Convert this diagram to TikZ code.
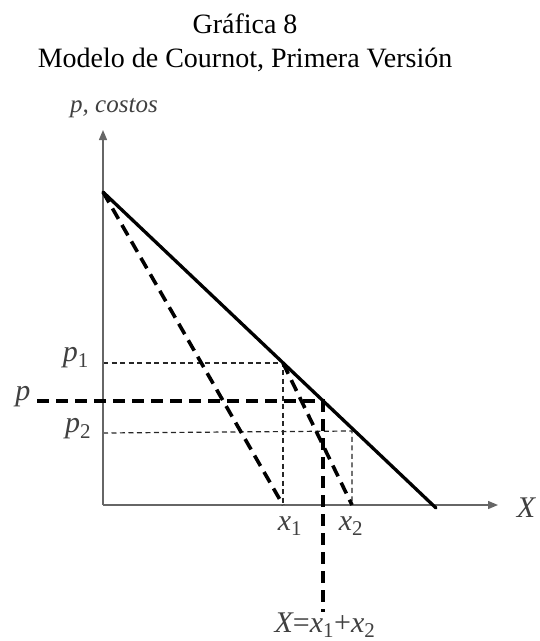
\documentclass[tikz,border=0pt]{standalone}
\usepackage{fontspec}
\setmainfont{Liberation Serif}
\usetikzlibrary{arrows.meta}
\tikzset{
  axis/.style={draw=black!60, line width=1.4pt, -{Triangle[length=10pt,width=8pt]}},
  demand/.style={line width=3.3pt, line cap=round},
  thickdash/.style={line width=3.6pt, dash pattern=on 12pt off 7pt},
  thindash/.style={line width=1.2pt, dash pattern=on 5pt off 3.5pt, draw=black!85},
  lbl/.style={inner sep=0pt, font=\fontsize{25}{28}\selectfont\itshape, text=black!75},
  mlbl/.style={inner sep=0pt, font=\fontsize{30}{34}\selectfont\itshape, text=black!75},
  ttl/.style={inner sep=0pt, anchor=base, font=\fontsize{28}{32}\selectfont}
}
\newcommand\sbx[1]{\textsubscript{\upshape #1}}
\begin{document}
\begin{tikzpicture}[x=1pt,y=-1pt]
\useasboundingbox (0,0) rectangle (540,641);
% title
\node[ttl] (t1) at (245,33) {Gráfica 8};
\node[ttl] (t2) at (245,67) {Modelo de Cournot, Primera Versión};
% coordinates
\coordinate (O) at (103,505);
\coordinate (Ytop) at (103,130);
\coordinate (Xend) at (498,505);
\coordinate (A) at (103,192);
\coordinate (B) at (436,508);
\coordinate (P1) at (283,363);
\coordinate (P) at (323,401);
\coordinate (P2) at (352,431);
\coordinate (X1) at (283,505);
\coordinate (X2) at (352,505);
\coordinate (pL) at (37,401);
\coordinate (pA1) at (103,363);
\coordinate (pA2) at (103,433);
\coordinate (Xbot) at (323,612);
% thin dashed guides
\draw[thindash] (pA1) -- (P1) -- (X1);
\draw[thindash] (pA2) -- (P2) -- (X2);
% axes
\draw[axis] (O) -- (Ytop);
\draw[axis] (O) -- (Xend);
% demand
\draw[demand] (A) -- (B);
% thick dashed lines
\draw[thickdash] (A) -- (X1);
\draw[thickdash] (P1) -- (X2);
\draw[thickdash] (pL) -- (P) -- (Xbot);
% labels
\node[lbl] (ly) at (114,108) {p, costos};
\node[mlbl] (lx) at (526,508) {X};
\node[mlbl] (lp1) at (76,358) {p\sbx{1}};
\node[mlbl] (lp) at (23,397) {p};
\node[mlbl] (lp2) at (78,429) {p\sbx{2}};
\node[mlbl] (lx1) at (290,526) {x\sbx{1}};
\node[mlbl] (lx2) at (351,526) {x\sbx{2}};
\node[mlbl] (lX) at (325,625) {X\upshape =\itshape x\sbx{1}\upshape +\itshape x\sbx{2}};
\end{tikzpicture}
\end{document}
